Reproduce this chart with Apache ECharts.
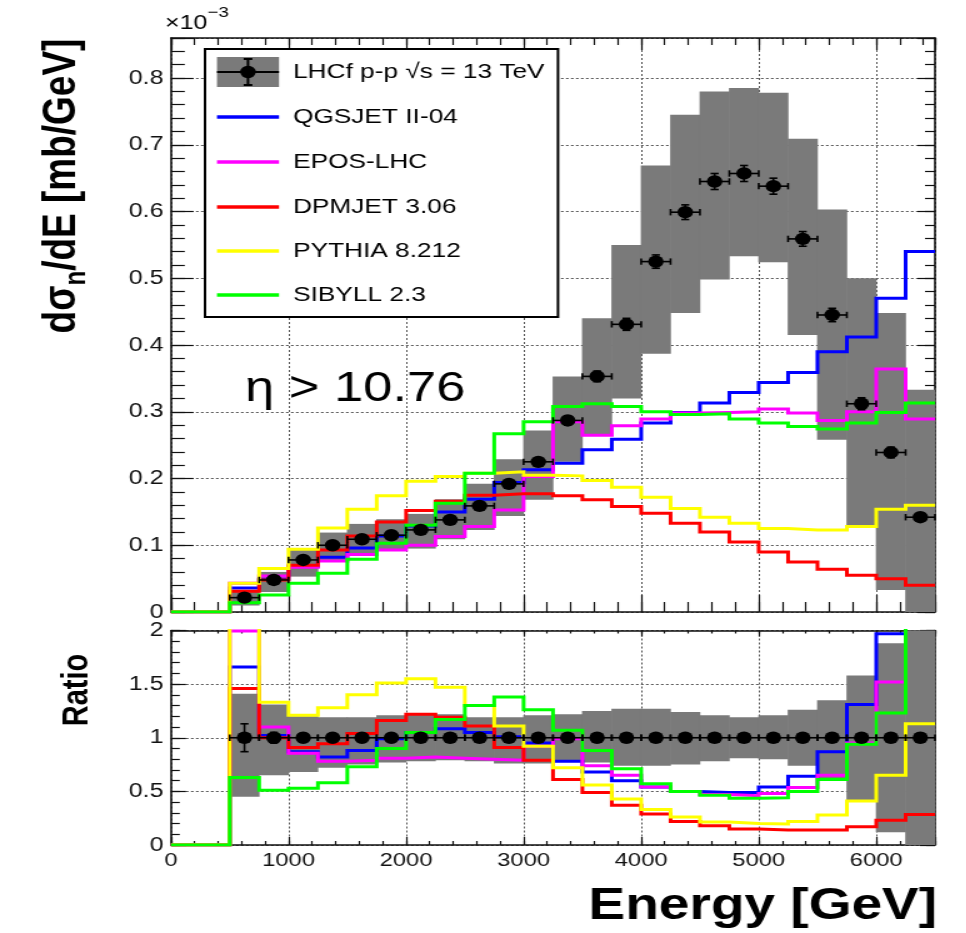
<!DOCTYPE html>
<html>
<head>
<meta charset="utf-8">
<title>LHCf neutron energy spectrum, η &gt; 10.76</title>
<script src="https://cdn.jsdelivr.net/npm/echarts@6/dist/echarts.min.js"></script>
<style>
  html, body { margin: 0; padding: 0; background: #fff; overflow: hidden; }
  /* the figure is laid out 773 px wide and then stretched horizontally to 966 px */
  #chart { width: 773px; height: 933px; transform: scaleX(1.25); transform-origin: 0 0; }
</style>
</head>
<body>
<div id="chart"></div>
<script>
// ---------------------------------------------------------------------------
// Data
// ---------------------------------------------------------------------------
// Energy bin edges [GeV]
const binEdges = [500, 750, 1000, 1250, 1500, 1750, 2000, 2250, 2500, 2750, 3000, 3250,
                  3500, 3750, 4000, 4250, 4500, 4750, 5000, 5250, 5500, 5750, 6000, 6250, 6500];

// LHCf measurement, dσn/dE in units of 1e-3 mb/GeV
const lhcfValue   = [0.0215, 0.048, 0.078, 0.100, 0.109, 0.115, 0.123, 0.138, 0.159, 0.192, 0.225, 0.287,
                     0.353, 0.431, 0.525, 0.599, 0.645, 0.657, 0.638, 0.559, 0.445, 0.312, 0.239, 0.142];
const lhcfStatErr = [0.003, 0.003, 0.003, 0.003, 0.003, 0.003, 0.003, 0.004, 0.004, 0.005, 0.006, 0.007,
                     0.008, 0.009, 0.010, 0.011, 0.012, 0.012, 0.012, 0.011, 0.010, 0.009, 0.008, 0.006];
const lhcfSysLow  = [0.0097, 0.030, 0.053, 0.075, 0.084, 0.092, 0.095, 0.109, 0.123, 0.144, 0.168, 0.225,
                     0.265, 0.320, 0.387, 0.448, 0.498, 0.533, 0.524, 0.415, 0.258, 0.130, 0.033, 0.0];
const lhcfSysHigh = [0.030, 0.060, 0.0955, 0.119, 0.132, 0.139, 0.147, 0.169, 0.192, 0.229, 0.272, 0.353,
                     0.440, 0.550, 0.669, 0.745, 0.780, 0.785, 0.778, 0.709, 0.603, 0.500, 0.448, 0.333];

// Model predictions, same units
const qgsjet  = [0.036, 0.049, 0.068, 0.082, 0.096, 0.114, 0.129, 0.150, 0.169, 0.194, 0.213, 0.223,
                 0.243, 0.259, 0.283, 0.299, 0.313, 0.329, 0.344, 0.359, 0.390, 0.412, 0.470, 0.540];
const eposLhc = [0.043, 0.054, 0.067, 0.0765, 0.086, 0.093, 0.100, 0.113, 0.128, 0.153, 0.203, 0.285,
                 0.265, 0.279, 0.289, 0.298, 0.299, 0.300, 0.304, 0.298, 0.287, 0.300, 0.364, 0.289];
const dpmjet  = [0.031, 0.048, 0.070, 0.093, 0.114, 0.135, 0.152, 0.166, 0.175, 0.177, 0.177, 0.174,
                 0.168, 0.158, 0.148, 0.133, 0.120, 0.105, 0.090, 0.075, 0.064, 0.055, 0.050, 0.040];
const pythia  = [0.043, 0.065, 0.094, 0.126, 0.154, 0.174, 0.196, 0.203, 0.208, 0.210, 0.205, 0.204,
                 0.197, 0.187, 0.172, 0.155, 0.142, 0.133, 0.125, 0.123, 0.123, 0.128, 0.154, 0.160];
const sibyll  = [0.014, 0.0255, 0.043, 0.058, 0.079, 0.103, 0.130, 0.163, 0.208, 0.267, 0.285, 0.308,
                 0.312, 0.308, 0.300, 0.296, 0.297, 0.289, 0.283, 0.278, 0.274, 0.283, 0.299, 0.313];

// Ratio MC / data
const ratioQgsjet = [1.66, 1.02, 0.87, 0.82, 0.88, 0.99, 1.05, 1.085, 1.05, 1.01, 0.95, 0.78,
                     0.68, 0.60, 0.54, 0.50, 0.49, 0.49, 0.54, 0.64, 0.87, 1.31, 1.97, 3.80];
const ratioEpos   = [1.995, 1.10, 0.855, 0.78, 0.79, 0.81, 0.82, 0.81, 0.80, 0.79, 0.92, 0.99,
                     0.74, 0.65, 0.54, 0.50, 0.47, 0.46, 0.48, 0.535, 0.65, 0.95, 1.52, 2.04];
const ratioDpmjet = [1.46, 1.00, 0.91, 0.945, 1.04, 1.16, 1.22, 1.19, 1.11, 0.91, 0.79, 0.61,
                     0.49, 0.37, 0.29, 0.22, 0.18, 0.15, 0.14, 0.14, 0.14, 0.17, 0.23, 0.285];
const ratioPythia = [2.10, 1.33, 1.21, 1.28, 1.40, 1.51, 1.55, 1.47, 1.30, 1.11, 0.92, 0.72,
                     0.56, 0.43, 0.33, 0.26, 0.215, 0.20, 0.195, 0.22, 0.28, 0.41, 0.65, 1.13];
const ratioSibyll = [0.63, 0.51, 0.53, 0.58, 0.73, 0.90, 1.05, 1.17, 1.30, 1.38, 1.26, 1.07,
                     0.88, 0.71, 0.57, 0.50, 0.465, 0.435, 0.44, 0.50, 0.61, 0.94, 1.23, 2.20];
const ratioBandLow  = [0.45, 0.65, 0.68, 0.72, 0.75, 0.77, 0.78, 0.79, 0.78, 0.76, 0.76, 0.79,
                       0.77, 0.74, 0.74, 0.75, 0.78, 0.81, 0.80, 0.74, 0.61, 0.42, 0.12, 0.0];
const ratioBandHigh = [1.41, 1.31, 1.20, 1.19, 1.19, 1.21, 1.23, 1.22, 1.19, 1.19, 1.21, 1.22,
                       1.25, 1.27, 1.27, 1.24, 1.21, 1.19, 1.21, 1.26, 1.35, 1.58, 1.88, 2.35];
const ratioValue    = [1, 1, 1, 1, 1, 1, 1, 1, 1, 1, 1, 1, 1, 1, 1, 1, 1, 1, 1, 1, 1, 1, 1, 1];
const ratioStatErr  = [0.13, 0.05, 0.04, 0.03, 0.03, 0.03, 0.03, 0.03, 0.03, 0.03, 0.03, 0.03,
                       0.03, 0.03, 0.02, 0.02, 0.02, 0.02, 0.02, 0.02, 0.02, 0.03, 0.03, 0.04];

const dataName   = 'LHCf p-p √s = 13 TeV';
const modelNames = ['QGSJET II-04', 'EPOS-LHC', 'DPMJET 3.06', 'PYTHIA 8.212', 'SIBYLL 2.3'];
const modelSpectra = [qgsjet, eposLhc, dpmjet, pythia, sibyll];
const modelRatios  = [ratioQgsjet, ratioEpos, ratioDpmjet, ratioPythia, ratioSibyll];

// ---------------------------------------------------------------------------
// Style and layout
// ---------------------------------------------------------------------------
const modelColors = ['#0000ff', '#ff00ff', '#ff0000', '#ffff00', '#00ff00'];
const FONT = '"Liberation Sans", Arial, Helvetica, sans-serif';
const INK = '#111111';
const BAND = '#7a7a7a';
const GRID_DASH = { color: '#555', width: 1, type: [2, 2] };

const PLOT_LEFT = 136.8, PLOT_WIDTH = 611.2;
const UPPER = { top: 38, height: 574, max: 0.86 };
const LOWER = { top: 630.5, height: 214.5, max: 2 };

// ---------------------------------------------------------------------------
// Helpers
// ---------------------------------------------------------------------------
function stepPoints(values) {
  // histogram outline starting at E = 0 with empty bins below the first edge
  const pts = [[0, 0]];
  values.forEach((v, i) => pts.push([binEdges[i], v]));
  pts.push([binEdges[binEdges.length - 1], values[values.length - 1]]);
  return pts;
}

function isMultiple(v, step) {
  const q = v / step;
  return Math.abs(q - Math.round(q)) < 1e-6;
}

function xAxisDef(grid, pos, interval, tickLen, opts) {
  opts = opts || {};
  return {
    type: 'value', gridIndex: grid, position: pos, min: 0, max: 6500, interval: interval,
    axisLine: { show: !!opts.line, onZero: false, lineStyle: { color: INK, width: 1.6 } },
    axisTick: { show: true, inside: true, length: tickLen, lineStyle: { color: INK, width: 1.2 } },
    axisLabel: opts.labels ? {
      show: true, margin: 6, color: INK, fontFamily: FONT, fontSize: 19,
      formatter: v => (isMultiple(v, 1000) ? String(v) : '')
    } : { show: false },
    splitLine: opts.split ? { show: true, lineStyle: GRID_DASH } : { show: false }
  };
}

function yAxisDef(grid, pos, max, interval, tickLen, opts) {
  opts = opts || {};
  return {
    type: 'value', gridIndex: grid, position: pos, min: 0, max: max, interval: interval,
    axisLine: { show: !!opts.line, onZero: false, lineStyle: { color: INK, width: 1.6 } },
    axisTick: { show: true, inside: true, length: tickLen, lineStyle: { color: INK, width: 1.2 } },
    axisLabel: opts.labelStep ? {
      show: true, margin: 6, color: INK, fontFamily: FONT, fontSize: 20,
      formatter: v => {
        if (!isMultiple(v, opts.labelStep)) return '';
        return v === 0 ? '0' : String(Math.round(v * 10) / 10);
      }
    } : { show: false },
    splitLine: opts.split ? { show: true, lineStyle: GRID_DASH } : { show: false }
  };
}

function bandSeries(lo, hi, xi, yi) {
  return {
    type: 'custom', xAxisIndex: xi, yAxisIndex: yi, clip: true, silent: true, z: 1,
    data: lo.map((l, i) => [binEdges[i], binEdges[i + 1], l, hi[i]]),
    encode: { x: [0, 1], y: [2, 3] },
    renderItem(params, api) {
      const p0 = api.coord([api.value(0), api.value(3)]);
      const p1 = api.coord([api.value(1), api.value(2)]);
      return {
        type: 'rect',
        shape: { x: p0[0] - 0.3, y: p0[1], width: p1[0] - p0[0] + 0.6, height: p1[1] - p0[1] },
        style: { fill: BAND }
      };
    }
  };
}

function lineSeries(name, values, color, xi, yi) {
  return {
    type: 'line', name: name, xAxisIndex: xi, yAxisIndex: yi,
    data: stepPoints(values), step: 'end', symbol: 'none', showSymbol: false,
    clip: true, silent: true, z: 3,
    lineStyle: { color: color, width: 3, join: 'miter', cap: 'butt' },
    itemStyle: { color: color }
  };
}

function pointSeries(values, errs, xi, yi) {
  return {
    type: 'custom', name: dataName, xAxisIndex: xi, yAxisIndex: yi, clip: false, silent: true, z: 5,
    data: values.map((v, i) => [binEdges[i], binEdges[i + 1], v, errs[i]]),
    encode: { x: [0, 1], y: 2 },
    renderItem(params, api) {
      const x0 = api.value(0), x1 = api.value(1), v = api.value(2), e = api.value(3);
      const xm = (x0 + x1) / 2;
      const L = api.coord([x0, v]), R = api.coord([x1, v]);
      const T = api.coord([xm, v + e]), B = api.coord([xm, v - e]);
      const C = api.coord([xm, v]);
      const cap = 3.2;
      const st = { stroke: '#000', lineWidth: 1.6, fill: null };
      const seg = (a, b, c, d) => ({ type: 'line', shape: { x1: a, y1: b, x2: c, y2: d }, style: st });
      return {
        type: 'group',
        children: [
          seg(L[0], L[1], R[0], R[1]),
          seg(L[0], L[1] - cap, L[0], L[1] + cap),
          seg(R[0], R[1] - cap, R[0], R[1] + cap),
          seg(T[0], T[1], B[0], B[1]),
          seg(T[0] - cap, T[1], T[0] + cap, T[1]),
          seg(B[0] - cap, B[1], B[0] + cap, B[1]),
          { type: 'circle', shape: { cx: C[0], cy: C[1], r: 6.2 }, style: { fill: '#000' } }
        ]
      };
    }
  };
}

// ---------------------------------------------------------------------------
// Legend and titles
// ---------------------------------------------------------------------------
const LEG = { x0: 164, y0: 49, x1: 446.4, y1: 317, sx0: 173.6, sx1: 223.2, tx: 234.4,
              rows: [72, 117, 162, 207, 251, 295] };

function legendGraphics() {
  const els = [];
  els.push({ type: 'rect', z: 100, shape: { x: LEG.x0, y: LEG.y0, width: LEG.x1 - LEG.x0, height: LEG.y1 - LEG.y0 },
             style: { fill: '#fff', stroke: '#000', lineWidth: 2 } });
  const y = LEG.rows[0], xm = (LEG.sx0 + LEG.sx1) / 2;
  const st = { stroke: '#000', lineWidth: 2 };
  els.push({ type: 'rect', z: 101, shape: { x: LEG.sx0, y: y - 15, width: LEG.sx1 - LEG.sx0, height: 30 }, style: { fill: BAND } });
  els.push({ type: 'line', z: 102, shape: { x1: LEG.sx0, y1: y, x2: LEG.sx1, y2: y }, style: st });
  els.push({ type: 'line', z: 102, shape: { x1: xm, y1: y - 13, x2: xm, y2: y + 13 }, style: st });
  els.push({ type: 'line', z: 102, shape: { x1: xm - 3.5, y1: y - 13, x2: xm + 3.5, y2: y - 13 }, style: st });
  els.push({ type: 'line', z: 102, shape: { x1: xm - 3.5, y1: y + 13, x2: xm + 3.5, y2: y + 13 }, style: st });
  els.push({ type: 'circle', z: 103, shape: { cx: xm, cy: y, r: 6.2 }, style: { fill: '#000' } });
  const names = [dataName].concat(modelNames);
  names.forEach((n, i) => {
    const ry = LEG.rows[i];
    if (i > 0) {
      els.push({ type: 'line', z: 102, shape: { x1: LEG.sx0, y1: ry, x2: LEG.sx1, y2: ry },
                 style: { stroke: modelColors[i - 1], lineWidth: 3.5 } });
    }
    els.push({ type: 'text', z: 102, x: LEG.tx, y: ry,
               style: { text: n, fill: '#000', fontFamily: FONT, fontSize: 21,
                        align: 'left', verticalAlign: 'middle', textAlign: 'left', textVerticalAlign: 'middle' } });
  });
  return els;
}

const titleGraphics = [
  // y-axis title of the spectrum panel
  { type: 'text', z: 50, x: 52, y: 186, rotation: Math.PI / 2,
    style: { text: '{m|dσ}{s|n}{m|/dE [mb/GeV]}', fill: '#000', align: 'center', verticalAlign: 'middle',
             textAlign: 'center', textVerticalAlign: 'middle',
             rich: { m: { fontFamily: FONT, fontSize: 37, fontWeight: 'bold', lineHeight: 42, verticalAlign: 'top' },
                     s: { fontFamily: FONT, fontSize: 24, fontWeight: 'bold', lineHeight: 8, verticalAlign: 'bottom' } } } },
  // exponent of the spectrum axis
  { type: 'text', z: 50, x: 132, y: 19,
    style: { text: '{m|×10}{p|−3}', fill: '#000', align: 'left', verticalAlign: 'middle',
             textAlign: 'left', textVerticalAlign: 'middle',
             rich: { m: { fontFamily: FONT, fontSize: 20, lineHeight: 28, verticalAlign: 'bottom' },
                     p: { fontFamily: FONT, fontSize: 15, lineHeight: 10, verticalAlign: 'top' } } } },
  // pseudorapidity region
  { type: 'text', z: 50, x: 196, y: 389,
    style: { text: 'η > 10.76', fill: '#000', fontFamily: FONT, fontSize: 42,
             align: 'left', verticalAlign: 'middle', textAlign: 'left', textVerticalAlign: 'middle' } },
  // y-axis title of the ratio panel
  { type: 'text', z: 50, x: 61.6, y: 690, rotation: Math.PI / 2,
    style: { text: 'Ratio', fill: '#000', fontFamily: FONT, fontSize: 29, fontWeight: 'bold',
             align: 'center', verticalAlign: 'middle', textAlign: 'center', textVerticalAlign: 'middle' } },
  // x-axis title
  { type: 'text', z: 50, x: 749.6, y: 907,
    style: { text: 'Energy [GeV]', fill: '#000', fontFamily: FONT, fontSize: 44, fontWeight: 'bold',
             align: 'right', verticalAlign: 'middle', textAlign: 'right', textVerticalAlign: 'middle' } }
];

// ---------------------------------------------------------------------------
// Chart
// ---------------------------------------------------------------------------
const series = [];
// spectrum panel
series.push(bandSeries(lhcfSysLow, lhcfSysHigh, 0, 0));
modelSpectra.forEach((vals, i) => series.push(lineSeries(modelNames[i], vals, modelColors[i], 0, 0)));
series.push(pointSeries(lhcfValue, lhcfStatErr, 0, 0));
// ratio panel
series.push(bandSeries(ratioBandLow, ratioBandHigh, 4, 4));
modelRatios.forEach((vals, i) => series.push(lineSeries(modelNames[i], vals, modelColors[i], 4, 4)));
series.push(pointSeries(ratioValue, ratioStatErr, 4, 4));

const option = {
  animation: false,
  backgroundColor: '#ffffff',
  grid: [
    { left: PLOT_LEFT, top: UPPER.top, width: PLOT_WIDTH, height: UPPER.height },
    { left: PLOT_LEFT, top: LOWER.top, width: PLOT_WIDTH, height: LOWER.height }
  ],
  xAxis: [
    xAxisDef(0, 'bottom', 1000, 17, { line: true, split: true }),
    xAxisDef(0, 'bottom', 200, 10),
    xAxisDef(0, 'top', 1000, 12, { line: true }),
    xAxisDef(0, 'top', 200, 7),
    xAxisDef(1, 'bottom', 1000, 8, { line: true, split: true, labels: true }),
    xAxisDef(1, 'bottom', 200, 4),
    xAxisDef(1, 'top', 1000, 6, { line: true }),
    xAxisDef(1, 'top', 200, 3)
  ],
  yAxis: [
    yAxisDef(0, 'left', UPPER.max, 0.1, 18, { line: true, split: true, labelStep: 0.1 }),
    yAxisDef(0, 'left', UPPER.max, 0.02, 11),
    yAxisDef(0, 'right', UPPER.max, 0.1, 14, { line: true }),
    yAxisDef(0, 'right', UPPER.max, 0.02, 8),
    yAxisDef(1, 'left', LOWER.max, 0.5, 12, { line: true, split: true, labelStep: 0.5 }),
    yAxisDef(1, 'left', LOWER.max, 0.1, 7),
    yAxisDef(1, 'right', LOWER.max, 0.5, 12, { line: true }),
    yAxisDef(1, 'right', LOWER.max, 0.1, 7)
  ],
  series: series,
  graphic: { elements: legendGraphics().concat(titleGraphics) }
};

const chart = echarts.init(document.getElementById('chart'), null, { renderer: 'canvas' });
chart.setOption(option);
</script>
</body>
</html>
